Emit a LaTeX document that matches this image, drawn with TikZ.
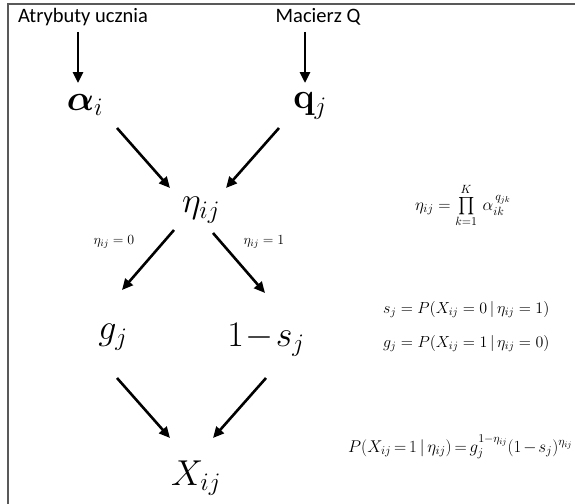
\RequirePackage{fix-cm}
\documentclass[tikz,border=0pt]{standalone}
\usepackage{amsmath}
\usepackage{bm}
\usepackage[no-math]{fontspec}
\newfontfamily\labfont{Carlito}
\usetikzlibrary{arrows.meta,calc}
\begin{document}
\begin{tikzpicture}[x=1pt,y=-1pt,
  big/.style={inner sep=0pt, font=\fontsize{36}{42}\selectfont},
  capt/.style={inner sep=0pt, font=\labfont\fontsize{20.5}{24}\selectfont},
  lbl/.style={inner sep=0pt, font=\fontsize{14}{17}\selectfont},
  eqn/.style={inner sep=0pt, anchor=base west, font=\fontsize{16}{19}\selectfont},
  arr/.style={line width=2.6pt, -{Triangle[length=11pt,width=10pt]}},
  frameline/.style={draw=black!65, line width=1.5pt}]
\useasboundingbox (0,0) rectangle (575,503);
\draw[frameline] (8,504) -- (8,4) -- (576,4);

% captions
\node[capt] (c1) at (83,17) {Atrybuty ucznia};
\node[capt] (c2) at (318,17) {Macierz Q};

% main nodes
\node[big] (a) at (85,105) {$\bm{\alpha}_i$};
\node[big] (q) at (310,106) {$\mathbf{q}_j$};
\node[big] (eta) at (201,210) {$\eta_{ij}$};
\node[big] (g) at (113,337) {$g_j$};
\node[big] (s) at (266,340) {$1\mkern1mu{-}\mkern1mu s_j$};
\node[big] (X) at (196,478) {$X_{ij}$};

% branch labels
\node[lbl] (l0) at (114,242) {$\eta_{ij}=0$};
\node[lbl] (l1) at (264,242) {$\eta_{ij}=1$};

% arrows
\draw[arr] ($(a)+(-7,-73)$) -- ($(a)+(-7,-22)$);
\draw[arr] ($(q)+(-5,-74)$) -- ($(q)+(-5,-23)$);
\draw[arr] ($(a)+(32,23)$) -- ($(eta)+(-31,-22)$);
\draw[arr] ($(q)+(-31,22)$) -- ($(eta)+(25,-22)$);
\draw[arr] ($(eta)+(-27,20)$) -- ($(g)+(9,-47)$);
\draw[arr] ($(eta)+(12,23)$) -- ($(s)+(-1,-47)$);
\draw[arr] ($(g)+(4,41)$) -- ($(X)+(-26,-40)$);
\draw[arr] ($(s)+(0,38)$) -- ($(X)+(17,-40)$);

% formulas
\node[eqn, font=\fontsize{17}{20}\selectfont] (f1) at (415,210) {$\eta_{ij}=\prod\limits_{k=1}^{K}\,\alpha_{ik}^{\,q_{jk}}$};
\node[eqn] (f2) at (383,313) {$s_j=P(X_{ij}=0\,|\,\eta_{ij}=1)$};
\node[eqn] (f3) at (383,347) {$g_j=P(X_{ij}=1\,|\,\eta_{ij}=0)$};
\node[eqn, font=\fontsize{17}{20}\selectfont] (f4) at (348,452) {$\thickmuskip=3mu\medmuskip=2mu P(X_{ij}=1\,|\,\eta_{ij})=g_j^{1-\eta_{ij}}(1-s_j)^{\eta_{ij}}$};
\end{tikzpicture}
\end{document}
